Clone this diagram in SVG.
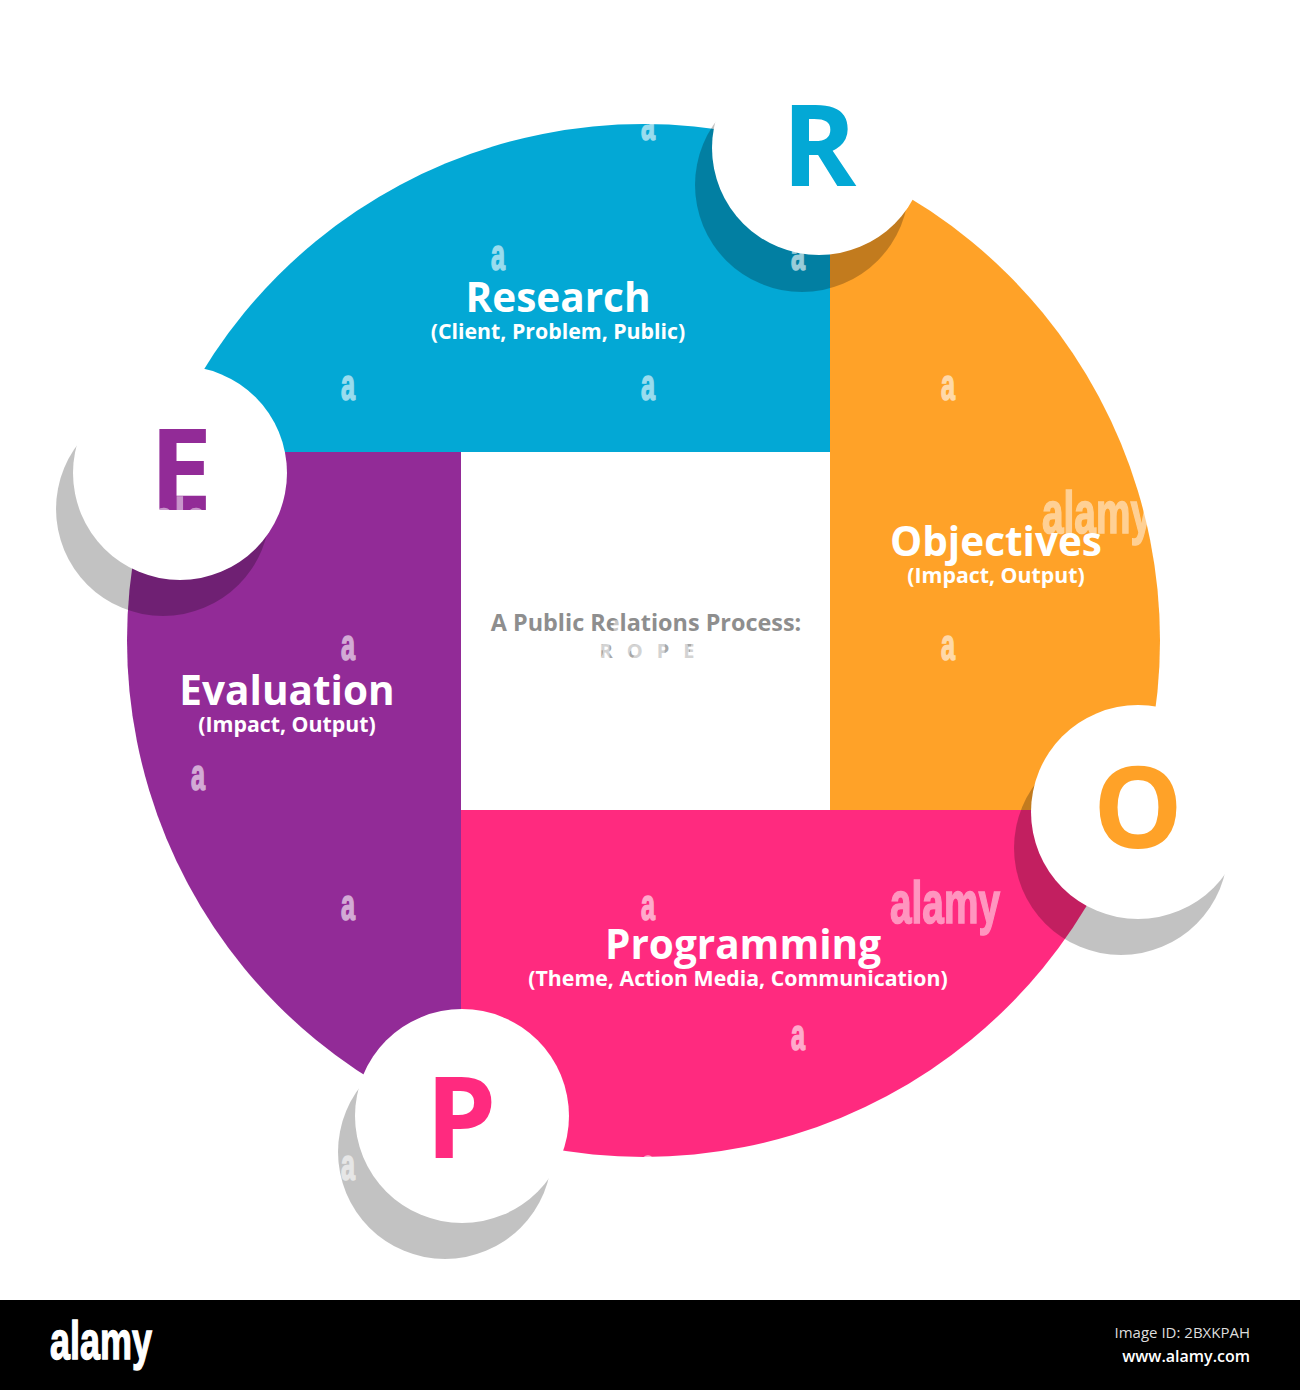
<svg xmlns="http://www.w3.org/2000/svg" width="1300" height="1390" viewBox="0 0 1300 1390">
<style>
text{font-family:"Open Sans","Liberation Sans",sans-serif;font-weight:700;text-anchor:middle}
.t{fill:#fff;font-size:40.5px}
.s{fill:#fff;font-size:21.3px}
.l{font-size:113px}
.sh{fill:#000;opacity:.24}
.c{fill:#fff}
.wm text{font-family:"Liberation Sans",sans-serif;fill:#fff;stroke:#fff;text-anchor:start}
.big{font-size:60px;opacity:.5;stroke-width:1.6}
.a{font-size:45px;opacity:.6;stroke-width:1.6}
</style>
<defs><clipPath id="disc"><circle cx="643.5" cy="640.5" r="516.5"/></clipPath></defs>
<rect width="1300" height="1390" fill="#fff"/>
<g clip-path="url(#disc)">
<g id="research-seg"><rect x="100" y="100" width="730" height="352" fill="#03a8d5"/></g>
<g id="objectives-seg"><rect x="830" y="100" width="350" height="710" fill="#ffa228"/></g>
<g id="programming-seg"><rect x="461" y="810" width="719" height="360" fill="#ff2a7f"/></g>
<g id="evaluation-seg"><rect x="100" y="452" width="361" height="718" fill="#922b97"/></g>
</g>
<g id="center">
<text x="646" y="631" font-size="23.4" fill="#8e8e8e">A Public Relations Process:</text>
<text x="654" y="658" font-size="20" fill="#a8a8a8" letter-spacing="14">ROPE</text>
</g>
<g id="research"><text class="t" x="558" y="312">Research</text><text class="s" x="558" y="339">(Client, Problem, Public)</text></g>
<g id="objectives"><text class="t" x="996" y="556">Objectives</text><text class="s" x="996" y="583">(Impact, Output)</text></g>
<g id="programming"><text class="t" x="743" y="959">Programming</text><text class="s" x="738" y="986">(Theme, Action Media, Communication)</text></g>
<g id="evaluation"><text class="t" x="287" y="705">Evaluation</text><text class="s" x="287" y="732">(Impact, Output)</text></g>
<g id="badge-r"><circle class="sh" cx="802" cy="185" r="107"/><circle class="c" cx="819" cy="148" r="107"/><text class="l" x="819" y="186" fill="#03a8d5">R</text></g>
<g id="badge-o"><circle class="sh" cx="1121" cy="848" r="107"/><circle class="c" cx="1138" cy="812" r="107"/><text class="l" x="1138" y="848" fill="#ffa228">O</text></g>
<g id="badge-p"><circle class="sh" cx="445" cy="1152" r="107"/><circle class="c" cx="462" cy="1116" r="107"/><text class="l" x="461" y="1158" fill="#ff2a7f">P</text></g>
<g id="badge-e"><circle class="sh" cx="163" cy="509" r="107"/><circle class="c" cx="180" cy="473" r="107"/><text class="l" x="181" y="510" fill="#922b97">E</text></g>
<g id="watermarks" class="wm">
<text class="a" x="641" y="140" textLength="14" lengthAdjust="spacingAndGlyphs">a</text>
<text class="a" x="491" y="270" textLength="14" lengthAdjust="spacingAndGlyphs">a</text>
<text class="a" x="791" y="270" textLength="14" lengthAdjust="spacingAndGlyphs">a</text>
<text class="a" x="341" y="400" textLength="14" lengthAdjust="spacingAndGlyphs">a</text>
<text class="a" x="641" y="400" textLength="14" lengthAdjust="spacingAndGlyphs">a</text>
<text class="a" x="941" y="400" textLength="14" lengthAdjust="spacingAndGlyphs">a</text>
<text class="a" x="341" y="660" textLength="14" lengthAdjust="spacingAndGlyphs">a</text>
<text class="a" x="941" y="660" textLength="14" lengthAdjust="spacingAndGlyphs">a</text>
<text class="a" x="191" y="790" textLength="14" lengthAdjust="spacingAndGlyphs">a</text>
<text class="a" x="341" y="920" textLength="14" lengthAdjust="spacingAndGlyphs">a</text>
<text class="a" x="641" y="920" textLength="14" lengthAdjust="spacingAndGlyphs">a</text>
<text class="a" x="791" y="1050" textLength="14" lengthAdjust="spacingAndGlyphs">a</text>
<text class="a" x="341" y="1180" textLength="14" lengthAdjust="spacingAndGlyphs">a</text>
<text class="a" x="641" y="1180" textLength="14" lengthAdjust="spacingAndGlyphs">a</text>
<text class="big" x="1042" y="533" textLength="110" lengthAdjust="spacingAndGlyphs">alamy</text>
<text class="big" x="890" y="923" textLength="110" lengthAdjust="spacingAndGlyphs">alamy</text>
<text class="big" x="590" y="664" textLength="110" lengthAdjust="spacingAndGlyphs">alamy</text>
<text class="big" x="153" y="540" textLength="110" lengthAdjust="spacingAndGlyphs">alamy</text>
</g>
<g id="footer">
<rect y="1300" width="1300" height="90" fill="#000"/>
<text x="50" y="1359" font-size="54" fill="#fff" stroke="#fff" stroke-width="1.4" textLength="102" lengthAdjust="spacingAndGlyphs" style="text-anchor:start;font-family:'Liberation Sans',sans-serif">alamy</text>
<text x="1250" y="1338" font-size="15" fill="#ddd" style="text-anchor:end;font-weight:400">Image ID: 2BXKPAH</text>
<text x="1250" y="1362" font-size="16" fill="#fff" style="text-anchor:end;font-weight:600">www.alamy.com</text>
</g>
</svg>
